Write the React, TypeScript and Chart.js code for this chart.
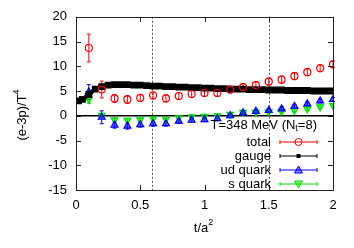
import React, { useEffect, useRef } from "react";
import { Chart, registerables } from "chart.js";

Chart.register(...registerables);

const T_POINTS = [0.1, 0.2, 0.3, 0.4, 0.5, 0.6, 0.7, 0.8, 0.9, 1.0, 1.1, 1.2, 1.3, 1.4, 1.5, 1.6, 1.7, 1.8, 1.9, 2.0];
const TOTAL = [13.7, 5.3, 3.5, 3.3, 3.6, 4.1, 3.5, 4.0, 4.4, 4.6, 4.6, 5.3, 5.8, 6.2, 6.9, 7.3, 8.0, 8.8, 9.6, 10.4];
const TOTAL_ERR = [2.8, 1.7, 0.8, 0.8, 0.7, 0.7, 0.7, 0.7, 0.7, 0.7, 0.7, 0.7, 0.7, 0.7, 0.7, 0.7, 0.7, 0.7, 0.7, 0.7];
const UD = [4.8, -0.3, -1.9, -2.1, -1.8, -1.6, -1.6, -1.1, -0.9, -0.8, -0.6, 0.0, 0.6, 0.9, 1.1, 1.4, 1.9, 2.4, 3.0, 3.3];
const UD_ERR = [1.5, 1.3, 0.6, 0.6, 0.5, 0.5, 0.5, 0.4, 0.4, 0.4, 0.4, 0.4, 0.4, 0.4, 0.4, 0.4, 0.4, 0.4, 0.4, 0.4];
const S = [3.3, 0.1, -0.8, -0.9, -0.8, -0.6, -0.7, -0.4, -0.2, -0.1, 0.0, 0.3, 0.7, 0.7, 0.8, 0.9, 1.1, 1.4, 1.8, 2.1];
const S_ERR = [0.8, 0.4, 0.3, 0.3, 0.3, 0.3, 0.3, 0.3, 0.3, 0.3, 0.3, 0.3, 0.3, 0.3, 0.3, 0.3, 0.3, 0.3, 0.3, 0.3];

const T_GAUGE = [0.02, 0.05, 0.1, 0.15, 0.2, 0.25, 0.3, 0.35, 0.4, 0.45, 0.5, 0.55, 0.6, 0.65, 0.7, 0.75, 0.8, 0.85, 0.9, 0.95, 1.0, 1.05, 1.1, 1.15, 1.2, 1.25, 1.3, 1.35, 1.4, 1.45, 1.5, 1.55, 1.6, 1.65, 1.7, 1.75, 1.8, 1.85, 1.9, 1.95, 2.0];
const GAUGE = [3.0, 3.3, 4.3, 5.4, 5.9, 6.2, 6.3, 6.3, 6.3, 6.2, 6.2, 6.1, 6.0, 6.0, 5.9, 5.9, 5.8, 5.8, 5.7, 5.7, 5.6, 5.6, 5.5, 5.5, 5.4, 5.4, 5.4, 5.3, 5.3, 5.3, 5.2, 5.2, 5.2, 5.1, 5.1, 5.1, 5.1, 5.0, 5.0, 5.0, 5.0];

const V_LINES = [0.59, 1.5];
const X_TICKS = [0, 0.5, 1, 1.5, 2];
const Y_TICKS = [-15, -10, -5, 0, 5, 10, 15, 20];

const SERIES_NAMES = ["total", "gauge", "ud quark", "s quark"];
const ANNOTATION = "T=348 MeV (N";

const FONT = '"Liberation Sans", Arial, Helvetica, sans-serif';

const RED = "#ff0000";
const BLACK = "#000000";
const BLUE = "#0000ff";
const GREEN = "#00e000";

export default function App() {
  const ref = useRef<HTMLCanvasElement>(null);

  useEffect(() => {
    document.body.style.margin = "0";
    const canvas = ref.current!;
    const pts = (xs: number[], ys: number[]) => xs.map((x, i) => ({ x, y: ys[i] }));

    const errs: { idx: number; err: number[]; color: string }[] = [
      { idx: 0, err: TOTAL_ERR, color: RED },
      { idx: 2, err: UD_ERR, color: BLUE },
      { idx: 3, err: S_ERR, color: GREEN },
    ];

    const decor = {
      id: "decor",
      beforeDatasetsDraw(chart: any) {
        const { ctx, chartArea: a, scales } = chart;
        const xs = scales.x, ys = scales.y;
        ctx.save();
        // dashed verticals
        ctx.strokeStyle = "#555";
        ctx.lineWidth = 1;
        ctx.setLineDash([2, 2]);
        V_LINES.forEach((v) => {
          const px = Math.round(xs.getPixelForValue(v)) + 0.5;
          ctx.beginPath();
          ctx.moveTo(px, a.top);
          ctx.lineTo(px, a.bottom);
          ctx.stroke();
        });
        ctx.setLineDash([]);
        // zero line
        const y0 = ys.getPixelForValue(0);
        ctx.strokeStyle = "#000";
        ctx.lineWidth = 1.5;
        ctx.beginPath();
        ctx.moveTo(a.left, y0);
        ctx.lineTo(a.right, y0);
        ctx.stroke();
        // error bars
        errs.forEach(({ idx, err, color }) => {
          const data = chart.data.datasets[idx].data;
          ctx.strokeStyle = color;
          ctx.lineWidth = 1;
          data.forEach((p: any, i: number) => {
            const px = xs.getPixelForValue(p.x);
            const top = ys.getPixelForValue(p.y + err[i]);
            const bot = ys.getPixelForValue(p.y - err[i]);
            ctx.beginPath();
            ctx.moveTo(px, top);
            ctx.lineTo(px, bot);
            ctx.moveTo(px - 2, top);
            ctx.lineTo(px + 2, top);
            ctx.moveTo(px - 2, bot);
            ctx.lineTo(px + 2, bot);
            ctx.stroke();
          });
        });
        ctx.restore();
      },
      afterDraw(chart: any) {
        const { ctx, chartArea: a, scales } = chart;
        const xs = scales.x, ys = scales.y;
        ctx.save();
        // border
        ctx.strokeStyle = "#222";
        ctx.lineWidth = 1;
        ctx.strokeRect(Math.round(a.left) + 0.5, Math.round(a.top) + 0.5, Math.round(a.right - a.left), Math.round(a.bottom - a.top));
        // inward ticks
        ctx.beginPath();
        X_TICKS.forEach((v) => {
          const px = Math.round(xs.getPixelForValue(v)) + 0.5;
          ctx.moveTo(px, a.bottom);
          ctx.lineTo(px, a.bottom - 5);
          ctx.moveTo(px, a.top);
          ctx.lineTo(px, a.top + 5);
        });
        Y_TICKS.forEach((v) => {
          const py = Math.round(ys.getPixelForValue(v)) + 0.5;
          ctx.moveTo(a.left, py);
          ctx.lineTo(a.left + 5, py);
          ctx.moveTo(a.right, py);
          ctx.lineTo(a.right - 5, py);
        });
        ctx.stroke();

        ctx.fillStyle = "#000";
        ctx.textBaseline = "middle";
        // y title
        ctx.save();
        ctx.translate(22, 115);
        ctx.rotate(-Math.PI / 2);
        ctx.font = `13px ${FONT}`;
        const yt = "(e-3p)/T";
        const w1 = ctx.measureText(yt).width;
        ctx.font = `9px ${FONT}`;
        const w2 = ctx.measureText("4").width;
        const start = -(w1 + w2) / 2;
        ctx.font = `13px ${FONT}`;
        ctx.textAlign = "left";
        ctx.fillText(yt, start, 0);
        ctx.font = `9px ${FONT}`;
        ctx.fillText("4", start + w1, -5);
        ctx.restore();

        // x title
        ctx.font = `13px ${FONT}`;
        ctx.textAlign = "left";
        const xt = "t/a";
        const xw = ctx.measureText(xt).width;
        const xstart = 204 - (xw + 6) / 2;
        ctx.fillText(xt, xstart, 228);
        ctx.font = `9px ${FONT}`;
        ctx.fillText("2", xstart + xw, 223);

        // annotation T=348 MeV (N_t=8)
        ctx.font = `13px ${FONT}`;
        const aw = ctx.measureText(ANNOTATION).width;
        ctx.font = `9px ${FONT}`;
        const sw = ctx.measureText("t").width;
        ctx.font = `13px ${FONT}`;
        const tail = "=8)";
        const tw = ctx.measureText(tail).width;
        const aRight = 317;
        const aStart = aRight - aw - sw - tw;
        ctx.fillText(ANNOTATION, aStart, 125);
        ctx.font = `9px ${FONT}`;
        ctx.fillText("t", aStart + aw, 129);
        ctx.font = `13px ${FONT}`;
        ctx.fillText(tail, aStart + aw + sw, 125);

        // legend
        const colors = [RED, BLACK, BLUE, GREEN];
        const ys0 = [142, 156, 170, 184];
        SERIES_NAMES.forEach((name, i) => {
          const yy = ys0[i];
          ctx.font = `13px ${FONT}`;
          ctx.textAlign = "right";
          ctx.fillStyle = "#000";
          ctx.fillText(name, 271, yy);
          ctx.strokeStyle = colors[i];
          ctx.lineWidth = 1;
          ctx.beginPath();
          ctx.moveTo(280, yy);
          ctx.lineTo(317, yy);
          ctx.moveTo(280, yy - 2);
          ctx.lineTo(280, yy + 2);
          ctx.moveTo(317, yy - 2);
          ctx.lineTo(317, yy + 2);
          ctx.stroke();
          const mx = 298.5;
          ctx.fillStyle = colors[i];
          if (i === 0) {
            ctx.beginPath();
            ctx.arc(mx, yy, 3.5, 0, Math.PI * 2);
            ctx.stroke();
          } else if (i === 1) {
            ctx.fillRect(mx - 2, yy - 2, 4, 4);
          } else if (i === 2) {
            ctx.beginPath();
            ctx.moveTo(mx, yy - 4);
            ctx.lineTo(mx + 4, yy + 3);
            ctx.lineTo(mx - 4, yy + 3);
            ctx.closePath();
            ctx.stroke();
            ctx.globalAlpha = 0.5;
            ctx.fill();
            ctx.globalAlpha = 1;
          } else {
            ctx.beginPath();
            ctx.moveTo(mx, yy + 4);
            ctx.lineTo(mx + 4, yy - 3);
            ctx.lineTo(mx - 4, yy - 3);
            ctx.closePath();
            ctx.stroke();
            ctx.globalAlpha = 0.5;
            ctx.fill();
            ctx.globalAlpha = 1;
          }
        });
        ctx.restore();
      },
    };

    const chart = new Chart(canvas, {
      type: "scatter",
      data: {
        datasets: [
          {
            label: SERIES_NAMES[0],
            data: pts(T_POINTS, TOTAL),
            showLine: false,
            pointStyle: "circle",
            pointRadius: 3.5,
            borderColor: RED,
            backgroundColor: "rgba(0,0,0,0)",
            borderWidth: 1.2,
          },
          {
            label: SERIES_NAMES[1],
            data: pts(T_GAUGE, GAUGE),
            showLine: true,
            borderColor: BLACK,
            backgroundColor: BLACK,
            borderWidth: 4,
            pointStyle: "rect",
            pointRadius: 2,
          },
          {
            label: SERIES_NAMES[2],
            data: pts(T_POINTS, UD),
            showLine: false,
            pointStyle: "triangle",
            pointRadius: 4,
            borderColor: BLUE,
            backgroundColor: "rgba(0,0,255,0.6)",
            borderWidth: 1.2,
          },
          {
            label: SERIES_NAMES[3],
            data: pts(T_POINTS, S),
            showLine: false,
            pointStyle: "triangle",
            rotation: 180,
            pointRadius: 4,
            borderColor: GREEN,
            backgroundColor: "rgba(0,224,0,0.6)",
            borderWidth: 1.2,
          },
        ],
      },
      options: {
        animation: false,
        responsive: false,
        layout: { padding: { left: 0, right: 21, top: 16, bottom: 0 } },
        plugins: { legend: { display: false }, tooltip: { enabled: false } },
        scales: {
          x: {
            type: "linear",
            min: 0,
            max: 2,
            afterFit: (s: any) => { s.height = 58; },
            afterBuildTicks: (s: any) => { s.ticks = X_TICKS.map((v) => ({ value: v })); },
            grid: { display: false, drawTicks: false },
            border: { display: false },
            ticks: {
              padding: 8,
              color: "#000",
              font: { family: FONT, size: 13 },
              callback: (v: any) => String(v),
            },
          },
          y: {
            type: "linear",
            min: -15,
            max: 20,
            afterFit: (s: any) => { s.width = 76; },
            afterBuildTicks: (s: any) => { s.ticks = Y_TICKS.map((v) => ({ value: v })); },
            grid: { display: false, drawTicks: false },
            border: { display: false },
            ticks: {
              padding: 9,
              color: "#000",
              font: { family: FONT, size: 13 },
              callback: (v: any) => String(v),
            },
          },
        },
      },
      plugins: [decor],
    });
    return () => chart.destroy();
  }, []);

  return (
    <div style={{ position: "fixed", left: 0, top: 0, width: 354, height: 248, background: "#fff" }}>
      <canvas ref={ref} width={354} height={248} style={{ width: 354, height: 248 }} />
    </div>
  );
}
